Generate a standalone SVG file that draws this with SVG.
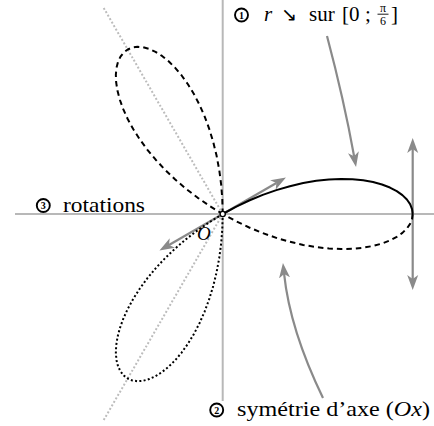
<svg xmlns="http://www.w3.org/2000/svg" xmlns:xlink="http://www.w3.org/1999/xlink" width="434" height="426" viewBox="0 0 434 426">
<style>
.axis{stroke:#b8b8b8;stroke-width:2;fill:none}
.guide{stroke:#bdbdbd;stroke-width:2;fill:none;stroke-dasharray:2 2}
.curve{stroke:#000;stroke-width:2;fill:none;stroke-linejoin:round}
.dashed{stroke-dasharray:5.5 4}
.dotted{stroke-dasharray:2 2.3}
.conn{stroke:#8a8a8a;stroke-width:2.2;fill:none}
.lbl{font-family:"Liberation Serif","Times New Roman","DejaVu Serif",serif;font-size:21px;fill:#000}
.small{font-family:"Liberation Serif","Times New Roman","DejaVu Serif",serif;font-size:12px;fill:#000;text-anchor:middle}
.num{font-family:"Liberation Serif","DejaVu Serif",serif;font-size:10px;font-weight:bold;fill:#000;text-anchor:middle}
.ring{fill:#fff;stroke:#000;stroke-width:1.9}
</style>
<defs>
<marker id="ah" viewBox="0 -6 16 12" refX="4" refY="0" markerWidth="16" markerHeight="12" markerUnits="userSpaceOnUse" orient="auto-start-reverse">
<path d="M15,0 L0,-5.5 L4,0 L0,5.5 Z" fill="#8a8a8a"/>
</marker>
<path id="half" d="M190,0 L189.35,-4.96 187.40,-9.82 184.18,-14.50 179.71,-18.89 174.04,-22.91 167.21,-26.48 159.29,-29.52 150.35,-31.96 140.49,-33.73 129.77,-34.77 118.32,-35.05 106.21,-34.51 93.58,-33.14 80.53,-30.91 67.17,-27.82 53.64,-23.88 40.04,-19.10 26.48,-13.49 13.10,-7.11 0,0"/>
<path id="petal" d="M0,0 L13.10,7.11 26.48,13.49 40.04,19.10 53.64,23.88 67.17,27.82 80.53,30.91 93.58,33.14 106.21,34.51 118.32,35.05 129.77,34.77 140.49,33.73 150.35,31.96 159.29,29.52 167.21,26.48 174.04,22.91 179.71,18.89 184.18,14.50 187.40,9.82 189.35,4.96 190,0 189.35,-4.96 187.40,-9.82 184.18,-14.50 179.71,-18.89 174.04,-22.91 167.21,-26.48 159.29,-29.52 150.35,-31.96 140.49,-33.73 129.77,-34.77 118.32,-35.05 106.21,-34.51 93.58,-33.14 80.53,-30.91 67.17,-27.82 53.64,-23.88 40.04,-19.10 26.48,-13.49 13.10,-7.11 0,0"/>
</defs>
<rect width="434" height="426" fill="#fff"/>
<g id="axes">
<line class="axis" x1="15" y1="214" x2="434" y2="214"/>
<line class="axis" x1="222.7" y1="0" x2="222.7" y2="401"/>
<line class="guide" x1="222.7" y1="214" x2="102.7" y2="6.2"/>
<line class="guide" x1="222.7" y1="214" x2="102.7" y2="421.8"/>
</g>
<g id="connectors">
<path class="conn" d="M327,36 Q344,100 354.1,156.2" marker-end="url(#ah)"/>
<path class="conn" d="M323,398 Q290,330 284.1,273.9" marker-end="url(#ah)"/>
<line class="conn" x1="412.7" y1="149" x2="412.7" y2="279" marker-start="url(#ah)" marker-end="url(#ah)"/>
<line class="conn" x1="169" y1="245" x2="276.4" y2="183" marker-start="url(#ah)" marker-end="url(#ah)"/>
</g>
<g id="curve" transform="translate(222.7,214)">
<use xlink:href="#half" class="curve"/>
<use xlink:href="#half" class="curve dashed" transform="scale(1,-1)"/>
<use xlink:href="#petal" class="curve dashed" transform="rotate(-120)"/>
<use xlink:href="#petal" class="curve dotted" transform="rotate(120)"/>
<circle cx="0" cy="0" r="2.6" fill="#fff" stroke="#000" stroke-width="1.4"/>
</g>
<g id="label-O">
<text class="lbl" x="197" y="240" style="font-style:italic;font-size:19px">O</text>
</g>
<g id="label-1">
<circle class="ring" cx="241.5" cy="15" r="6.5"/>
<text class="num" x="241.5" y="18.5">1</text>
<text class="lbl" y="21"><tspan x="264" font-style="italic">r</tspan><tspan x="281" style="font-family:'DejaVu Sans',sans-serif;font-size:19px">↘</tspan><tspan x="309">sur</tspan><tspan x="342">[0</tspan><tspan x="365">;</tspan><tspan x="391">]</tspan></text>
<text class="small" x="383" y="11.6">π</text>
<line x1="377.5" y1="14.2" x2="388.5" y2="14.2" stroke="#000" stroke-width="0.9"/>
<text class="small" x="383" y="25">6</text>
</g>
<g id="label-2">
<circle class="ring" cx="216.7" cy="410" r="6.5"/>
<text class="num" x="216.7" y="413.5">2</text>
<text class="lbl" x="237" y="415.7" textLength="193" lengthAdjust="spacingAndGlyphs">symétrie d’axe (<tspan font-style="italic">Ox</tspan>)</text>
</g>
<g id="label-3">
<circle class="ring" cx="43.3" cy="205.5" r="6.5"/>
<text class="num" x="43.3" y="209">3</text>
<text class="lbl" x="63" y="212" textLength="82" lengthAdjust="spacingAndGlyphs">rotations</text>
</g>
</svg>
